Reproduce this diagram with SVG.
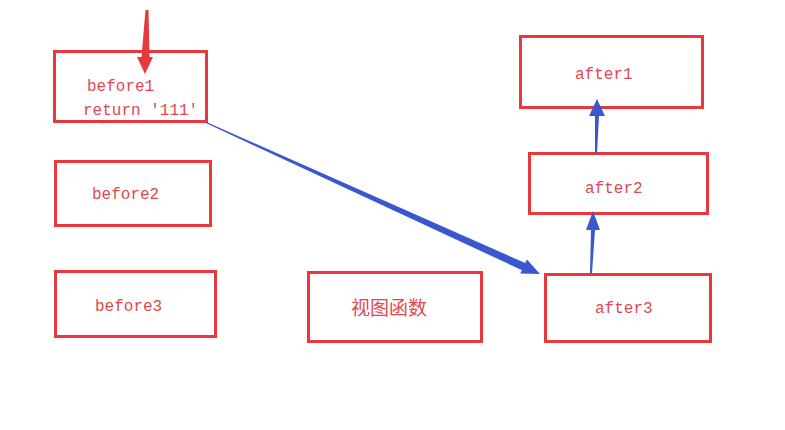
<svg xmlns="http://www.w3.org/2000/svg" width="785" height="430" viewBox="0 0 785 430">
<style>
.box{fill:#fff;stroke:#e8383d;stroke-width:3}
.t{font-family:"Liberation Mono","Noto Sans CJK SC",monospace;font-size:16px;fill:#e04850}
.cn{font-family:"Noto Sans CJK SC",serif;font-size:19px;fill:#e04850}
.blue{fill:#3a57cf}
.red{fill:#e8383d}
</style>
<rect width="785" height="430" fill="#fff"/>
<g id="before1"><rect class="box" x="54.5" y="51.5" width="152" height="70"/><text class="t" x="87" y="91">before1</text><text class="t" x="83" y="115">return '111'</text></g>
<g id="before2"><rect class="box" x="55.5" y="161.5" width="155" height="64"/><text class="t" x="92" y="199">before2</text></g>
<g id="before3"><rect class="box" x="55.5" y="271.5" width="160" height="65"/><text class="t" x="95" y="311">before3</text></g>
<g id="view"><rect class="box" x="308.5" y="272.5" width="173" height="69"/><text class="cn" x="351" y="315">视图函数</text></g>
<g id="after1"><rect class="box" x="520.5" y="36.5" width="182" height="71"/><text class="t" x="575" y="79">after1</text></g>
<g id="after2"><rect class="box" x="529.5" y="153.5" width="178" height="60"/><text class="t" x="585" y="193">after2</text></g>
<g id="after3"><rect class="box" x="545.5" y="274.5" width="165" height="67"/><text class="t" x="595" y="313">after3</text></g>
<g id="connectors">
<polygon class="red" points="145.5,10 148.5,10 149.5,57 153,57 145,74 137,57 141.5,57"/>
<polygon class="blue" points="205.25,121.45 525.2,263.0 527,259.5 540,274 520.2,273.5 522,270.2 204.75,122.55"/>
<polygon class="blue" points="590,273 592,273 595,230 600,230 593,211 586,230 591,230"/>
<polygon class="blue" points="595,153 597,153 599,116 605,116 597,99 589,116 595,116"/>
</g>
</svg>
